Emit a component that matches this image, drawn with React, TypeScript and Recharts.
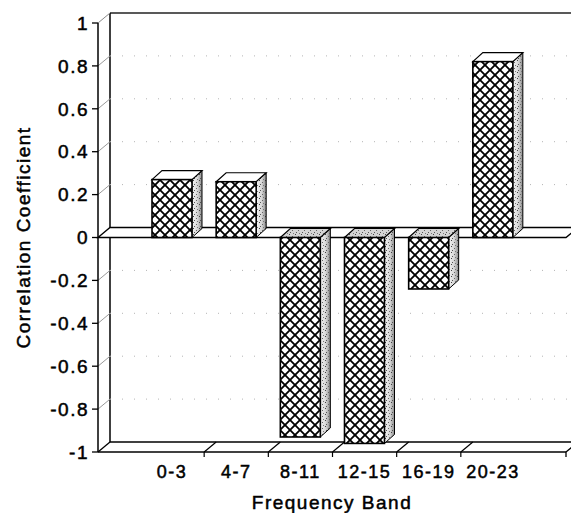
import React from 'react';
import { BarChart, Bar, XAxis, YAxis, ReferenceLine, ReferenceArea } from 'recharts';

const categories = ['0-3', '4-7', '8-11', '12-15', '16-19', '20-23'];
const correlation = [0.27, 0.26, -0.93, -0.96, -0.24, 0.82];
const yTicks = [-1, -0.8, -0.6, -0.4, -0.2, 0, 0.2, 0.4, 0.6, 0.8, 1];
const gridTicks = [-0.8, -0.6, -0.4, -0.2, 0.2, 0.4, 0.6, 0.8];
const xAxisTitle = 'Frequency Band';
const yAxisTitle = 'Correlation Coefficient';

const data = categories.map((band, i) => ({ band, value: correlation[i], frame: 0 }));

const DX = 12;
const DY = 10;
const BDX = 10;
const BDY = 9;
const FONT = '"Liberation Sans", Arial, Helvetica, sans-serif';

const Bar3D = (props: any) => {
  const { x, y, width, height, payload } = props;
  if (x == null || y == null) return null;
  const top = Math.min(y, y + height);
  const h = Math.abs(height);
  const r = x + width;
  const bottom = top + h;
  const neg = payload && payload.value < 0;
  const side = `${r},${top} ${r + BDX},${top - BDY} ${r + BDX},${bottom - BDY} ${r},${bottom}`;
  const topFace = `${x},${top} ${x + BDX},${top - BDY} ${r + BDX},${top - BDY} ${r},${top}`;
  return (
    <g>
      <polygon points={side} fill="url(#sideGrad)" stroke="none" />
      <polygon points={side} fill="url(#speck)" stroke="#000" strokeWidth={1} />
      <polygon points={topFace} fill={neg ? '#d4d4d4' : '#fff'} stroke="none" />
      <polygon points={topFace} fill={neg ? 'url(#speck)' : 'none'} stroke="#000" strokeWidth={1.2} />
      <rect x={x} y={top} width={width} height={h} fill="url(#hatch)" stroke="#000" strokeWidth={1.6} />
    </g>
  );
};

const Frame = (props: any) => {
  const { x, y, width, height } = props;
  if (x == null) return null;
  const b = y + height;
  const r = x + width;
  return (
    <g>
      <line x1={x + DX} y1={y - DY} x2={r + DX + 20} y2={y - DY} stroke="#222" strokeWidth={1.5} />
      <line x1={x + DX} y1={y - DY} x2={x + DX} y2={b - DY} stroke="#000" strokeWidth={1.5} />
      <line x1={x} y1={y} x2={x + DX} y2={y - DY} stroke="#888" strokeWidth={1} />
      <line x1={x + DX} y1={b - DY} x2={r + DX} y2={b - DY} stroke="#000" strokeWidth={1.3} />
      <line x1={x} y1={b} x2={x + DX} y2={b - DY} stroke="#000" strokeWidth={1.3} />
      <line x1={x} y1={b} x2={r} y2={b} stroke="#000" strokeWidth={1.6} />
      <line x1={r} y1={b} x2={r + DX} y2={b - DY} stroke="#000" strokeWidth={1.3} />
      <line x1={r} y1={b} x2={r} y2={b + 5} stroke="#000" strokeWidth={1.3} />
    </g>
  );
};

const WallGrid = (props: any) => {
  const { x1, x2, y1 } = props;
  if (x1 == null) return null;
  const l = Math.min(x1, x2);
  const r = Math.max(x1, x2);
  return (
    <g>
      <line x1={l} y1={y1} x2={l + DX} y2={y1 - DY} stroke="#999" strokeWidth={1} />
      <line x1={l + DX} y1={y1 - DY} x2={r + DX} y2={y1 - DY} stroke="#b4b4b4" strokeWidth={1} strokeDasharray="1 11" />
    </g>
  );
};

const ZeroPlane = (props: any) => {
  const { x1, x2, y1 } = props;
  if (x1 == null) return null;
  const l = Math.min(x1, x2);
  const r = Math.max(x1, x2);
  return (
    <polygon
      points={`${l},${y1} ${l + DX},${y1 - DY} ${r + DX},${y1 - DY} ${r},${y1}`}
      fill="#fff"
      stroke="#000"
      strokeWidth={1.3}
    />
  );
};

const XTick = (props: any) => {
  const { x, y, payload, index } = props;
  const half = payload && payload.offset != null ? payload.offset : 0;
  const bx = x + half;
  const last = index === categories.length - 1;
  return (
    <g>
      {!last && (
        <g>
          <line x1={bx} y1={y} x2={bx + DX} y2={y - DY} stroke="#000" strokeWidth={1.2} />
          <line x1={bx} y1={y} x2={bx} y2={y + 5} stroke="#000" strokeWidth={1.2} />
        </g>
      )}
      <text
        x={x}
        y={y + 20}
        textAnchor="middle"
        dominantBaseline="central"
        fontFamily={FONT}
        fontSize={18}
        letterSpacing={1.5}
        fill="#000"
        stroke="#000"
        strokeWidth={0.5}
      >
        {payload.value}
      </text>
    </g>
  );
};

const Defs = () => (
  <svg width={0} height={0} style={{ position: 'absolute' }}>
    <defs>
      <pattern id="hatch" patternUnits="userSpaceOnUse" width={10} height={10}>
        <rect width={10} height={10} fill="#fff" />
        <path d="M-1,-1 L11,11 M-1,9 L1,11 M9,-1 L11,1" stroke="#000" strokeWidth={1.8} />
        <path d="M11,-1 L-1,11 M1,-1 L-1,1 M11,9 L9,11" stroke="#000" strokeWidth={1.8} />
      </pattern>
      <linearGradient id="sideGrad" x1="0" y1="0" x2="1" y2="0">
        <stop offset="0" stopColor="#f4f4f4" />
        <stop offset="0.55" stopColor="#d6d6d6" />
        <stop offset="1" stopColor="#8a8a8a" />
      </linearGradient>
      <pattern id="speck" patternUnits="userSpaceOnUse" width={6} height={6}>
        <rect x={1} y={0} width={1} height={1} fill="#444" />
        <rect x={4} y={2} width={1} height={1} fill="#666" />
        <rect x={2} y={4} width={1} height={1} fill="#555" />
        <rect x={5} y={5} width={1} height={1} fill="#777" />
      </pattern>
    </defs>
  </svg>
);

export default function App() {
  return (
    <div style={{ position: 'absolute', left: 0, top: 0, width: 571, height: 513, background: '#fff' }}>
      <Defs />
      <BarChart
        width={571}
        height={513}
        data={data}
        margin={{ top: 23, right: 5, bottom: 0, left: 0 }}
        barSize={40}
      >
        <XAxis
          dataKey="band"
          type="category"
          interval={0}
          padding={{ left: 42, right: 41 }}
          axisLine={false}
          tickLine={false}
          tickSize={0}
          tickMargin={0}
          height={61}
          tick={<XTick />}
          label={{
            value: xAxisTitle,
            position: 'center',
            dy: 20,
            fontSize: 19,
            fontFamily: FONT,
            letterSpacing: 1.5,
            fill: '#000',
            stroke: '#000',
            strokeWidth: 0.5,
          }}
        />
        <XAxis xAxisId="frame" dataKey="frame" type="number" domain={[0, 1]} allowDataOverflow hide />
        <YAxis
          type="number"
          domain={[-1, 1]}
          ticks={yTicks}
          interval={0}
          width={98}
          stroke="#000"
          axisLine={{ stroke: '#000', strokeWidth: 1.5 }}
          tickLine={{ stroke: '#000', strokeWidth: 1.3 }}
          tickSize={6}
          tickMargin={3}
          tick={{
            fontSize: 19,
            fontFamily: FONT,
            letterSpacing: 1.5,
            fill: '#000',
            stroke: '#000',
            strokeWidth: 0.5,
          }}
          label={{
            value: yAxisTitle,
            angle: -90,
            position: 'center',
            dx: -26,
            fontSize: 19,
            fontFamily: FONT,
            letterSpacing: 1.5,
            fill: '#000',
            stroke: '#000',
            strokeWidth: 0.5,
          }}
        />
        <ReferenceArea
          xAxisId="frame"
          x1={0}
          x2={1}
          y1={-1}
          y2={1}
          shape={<Frame />}
          ifOverflow="visible"
          zIndex={10}
        />
        {gridTicks.map((t) => (
          <ReferenceLine key={t} y={t} shape={<WallGrid />} zIndex={20} />
        ))}
        <ReferenceLine y={0} shape={<ZeroPlane />} zIndex={30} />
        <Bar dataKey="value" shape={<Bar3D />} isAnimationActive={false} />
      </BarChart>
    </div>
  );
}
